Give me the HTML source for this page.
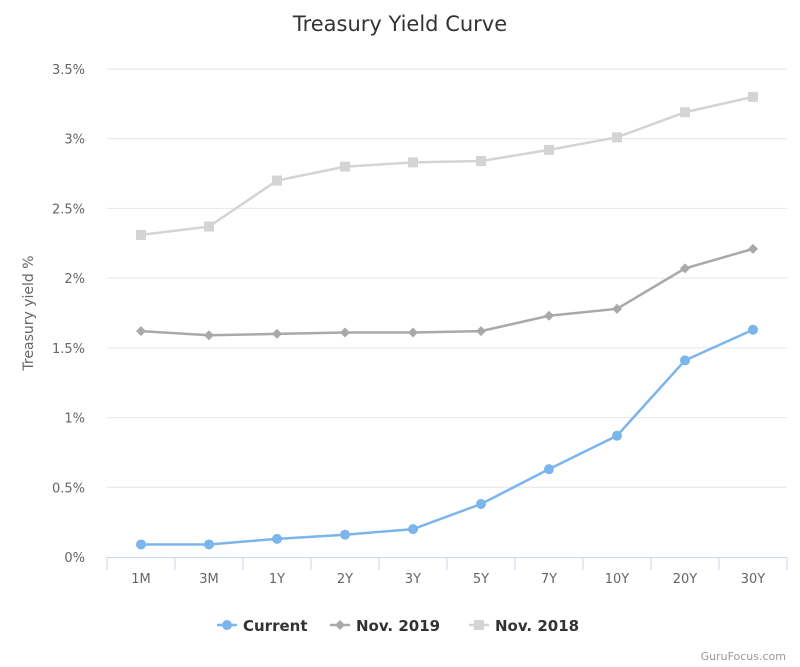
<!DOCTYPE html>
<html><head><meta charset="utf-8"><style>
html,body{margin:0;padding:0;background:#fff;}
svg{display:block;font-family:"DejaVu Sans","Liberation Sans",sans-serif;}
</style></head><body>
<svg id="chart" width="800" height="667" viewBox="0 0 800 667">
<text x="400" y="31" text-anchor="middle" font-size="21" fill="#333">Treasury Yield Curve</text>
<g id="grid"></g>
<g id="yticks"></g>
<g id="xaxis"></g>
<text transform="translate(33,313) rotate(-90)" text-anchor="middle" font-size="14" fill="#666">Treasury yield %</text>
<g id="series"></g>
<g id="legend"></g>
<text x="786" y="660" text-anchor="end" font-size="11" fill="#999">GuruFocus.com</text>
</svg>
<script>
const categories=["1M","3M","1Y","2Y","3Y","5Y","7Y","10Y","20Y","30Y"];
const current=[0.09,0.09,0.13,0.16,0.20,0.38,0.63,0.87,1.41,1.63];
const nov2019=[1.62,1.59,1.60,1.61,1.61,1.62,1.73,1.78,2.07,2.21];
const nov2018=[2.31,2.37,2.70,2.80,2.83,2.84,2.92,3.01,3.19,3.30];
const yTicks=[0,0.5,1,1.5,2,2.5,3,3.5];
const yTickLabels=["0%","0.5%","1%","1.5%","2%","2.5%","3%","3.5%"];
const NS="http://www.w3.org/2000/svg";
const x0=107,x1=787,yBase=557,yTop=69,yMax=3.5;
const bw=(x1-x0)/categories.length;
function xs(i){return x0+bw*(i+0.5);}
function ys(v){return yBase-v/yMax*(yBase-yTop);}
function mk(tag,attrs,parent){const e=document.createElementNS(NS,tag);for(const k in attrs)e.setAttribute(k,attrs[k]);parent.appendChild(e);return e;}
const grid=document.getElementById('grid'),yt=document.getElementById('yticks'),xa=document.getElementById('xaxis');
yTicks.forEach((t,i)=>{
  if(t>0){const l=mk('line',{x1:x0,x2:x1,y1:ys(t),y2:ys(t),stroke:'#e6e6e6','stroke-width':1},grid);
  
  }
  const tx=mk('text',{x:85,y:ys(t)+5,'text-anchor':'end','font-size':13,fill:'#666'},yt);
  tx.textContent=yTickLabels[i];
  
  
});
mk('line',{x1:x0,x2:x1,y1:yBase+0.5,y2:yBase+0.5,stroke:'#ccd6eb','stroke-width':1},xa);
for(let i=0;i<=categories.length;i++){
  const t=mk('line',{x1:x0+bw*i,x2:x0+bw*i,y1:yBase,y2:yBase+13,stroke:'#ccd6eb','stroke-width':1},xa);
  
  
}
categories.forEach((c,i)=>{
  const tx=mk('text',{x:xs(i),y:583,'text-anchor':'middle','font-size':13,fill:'#666'},xa);
  tx.textContent=c;
  
  
});
const ser=document.getElementById('series');
function marker(shape,cx,cy,color,parent){
  if(shape==='circle')return mk('circle',{cx:cx,cy:cy,r:5,fill:color},parent);
  if(shape==='diamond')return mk('path',{d:`M${cx} ${cy-5}L${cx+5} ${cy}L${cx} ${cy+5}L${cx-5} ${cy}Z`,fill:color},parent);
  return mk('rect',{x:cx-5,y:cy-5,width:10,height:10,fill:color},parent);
}
function drawSeries(vals,color,shape,name){
  const g=mk('g',{},ser);
  
  
  const p=mk('path',{d:vals.map((v,i)=>(i?'L':'M')+xs(i)+' '+ys(v)).join(''),fill:'none',stroke:color,'stroke-width':2.5},g);
  
  
  vals.forEach((v,i)=>{const m=marker(shape,xs(i),ys(v),color,g);
    
    });
}
drawSeries(nov2018,'#d4d4d4','square','series-nov-2018');
drawSeries(nov2019,'#a9a9a9','diamond','series-nov-2019');
drawSeries(current,'#7cb5ec','circle','series-current');
const leg=document.getElementById('legend');
[["Current",'#7cb5ec','circle',217],["Nov. 2019",'#a9a9a9','diamond',330],["Nov. 2018",'#d4d4d4','square',469]].forEach(([lab,col,sh,lx])=>{
  const g=mk('g',{},leg);
  
  
  mk('line',{x1:lx,x2:lx+20,y1:625,y2:625,stroke:col,'stroke-width':2.5},g);
  marker(sh,lx+10,625,col,g);
  const t=mk('text',{x:lx+26,y:631,'font-size':15,'font-weight':'bold',fill:'#333'},g);
  t.textContent=lab;
});
</script>
</body></html>
